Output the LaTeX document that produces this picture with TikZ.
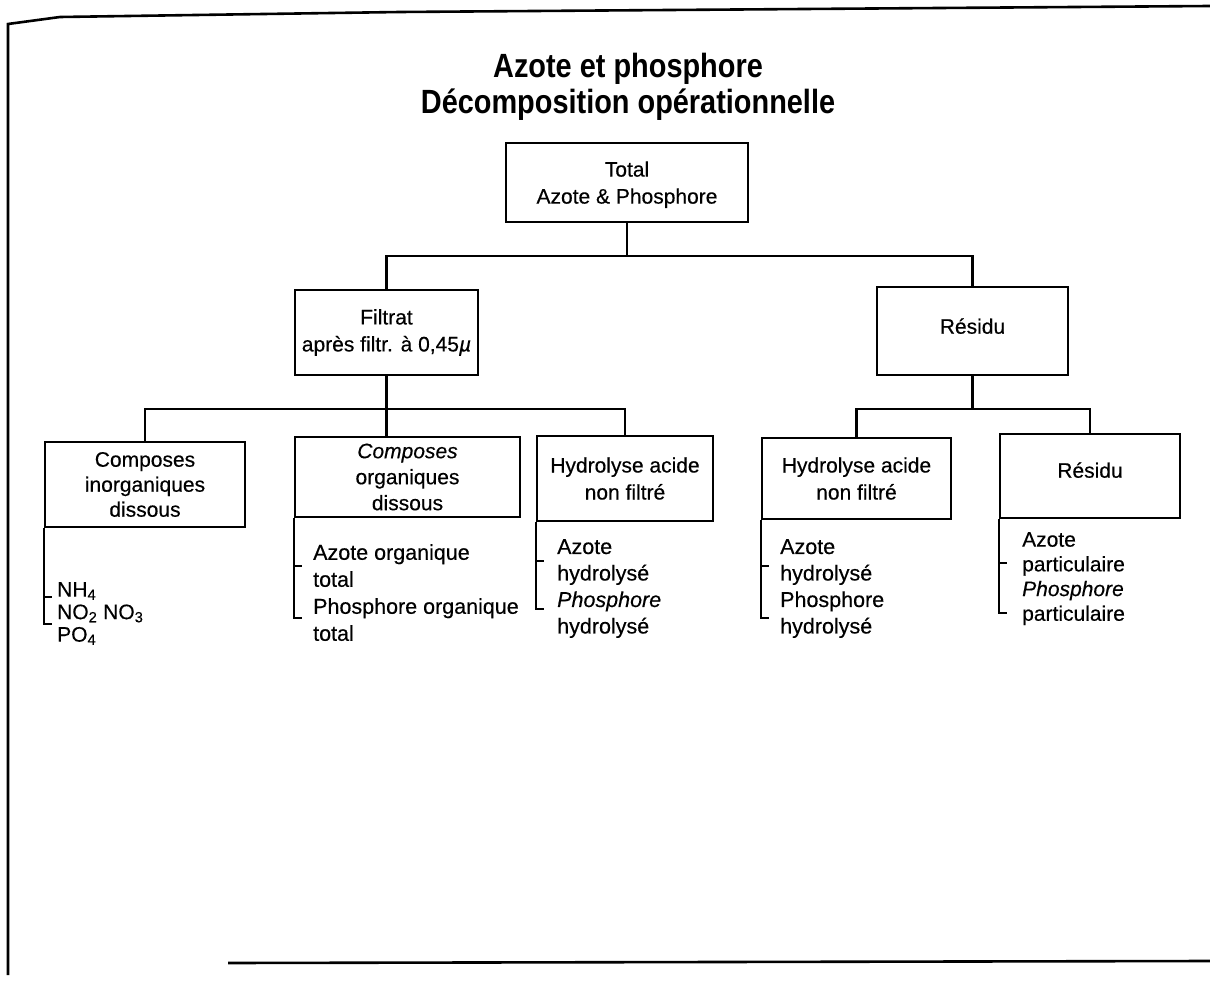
\documentclass[tikz,border=0pt]{standalone}
\usepackage{fontspec}
\setmainfont[FakeBold=0.4]{Liberation Sans}
\newfontfamily\titlefont[FakeStretch=0.86]{Liberation Sans}
\begin{document}
\begin{tikzpicture}[x=1pt,y=-1pt,
  boxstyle/.style={draw, line width=2.6pt, inner sep=0pt, align=center, font=\fontsize{21}{27}\selectfont},
  wire/.style={line width=2.3pt},
  bracket/.style={line width=2.2pt},
  listtext/.style={anchor=north west, align=left, inner sep=0pt, font=\fontsize{21.5}{26.5}\selectfont},
  titletext/.style={align=center, inner sep=0pt, font=\titlefont\bfseries\fontsize{33.6}{36}\selectfont}]
\useasboundingbox (0,0) rectangle (1210,981);
% frame
\draw[line width=2.6pt] (8,975) -- (8,24) -- (60,17) -- (400,12) -- (1210,6);
\draw[line width=2.6pt] (228,963) -- (1210,961);
% title
\node[titletext] (title) at (628,87) {Azote et phosphore\\Décomposition opérationnelle};
% boxes
\node[boxstyle, minimum width=242pt, minimum height=79pt, text depth=0pt] (top) at (627,182.5) {Total\\Azote \& Phosphore};
\node[boxstyle, minimum width=183pt, minimum height=85pt] (filtrat) at (386.5,332.5) {Filtrat\\après filtr. à 0,45{\itshape µ}};
\node[boxstyle, minimum width=191pt, minimum height=88pt, text depth=10pt] (residu) at (972.5,331) {Résidu};
\node[boxstyle, minimum width=200pt, minimum height=85pt] (b1) at (145,484.5) {Composes\\[-2pt]inorganiques\\[-2pt]dissous};
\node[boxstyle, minimum width=225pt, minimum height=80pt] (b2) at (407.5,477) {\textit{Composes}\\[-1pt]organiques\\[-1pt]dissous};
\node[boxstyle, minimum width=176pt, minimum height=85pt] (b3) at (625,478.5) {Hydrolyse acide\\non filtré};
\node[boxstyle, minimum width=189pt, minimum height=81pt] (b4) at (856.5,478.5) {Hydrolyse acide\\non filtré};
\node[boxstyle, minimum width=180pt, minimum height=84pt, text depth=12pt] (b5) at (1090,476) {Résidu};
% connectors
\draw[wire] (top.south) -- ++(0,33) coordinate (j1);
\draw[wire] (filtrat.north) |- (j1) -| (residu.north);
\draw[wire] (filtrat.south) -- ++(0,33) coordinate (j2);
\draw[wire] (b1.north) |- (j2) -| (b3.north);
\draw[wire] (j2) -- (j2 |- b2.north);
\draw[wire] (residu.south) -- ++(0,33) coordinate (j3);
\draw[wire] (b4.north) |- (j3) -| (b5.north);
% lists
\node[listtext, font=\fontsize{21}{22.5}\selectfont] (l1) at (57,582) {NH\textsubscript{4}\\NO\textsubscript{2} NO\textsubscript{3}\\PO\textsubscript{4}};
\node[listtext, font=\fontsize{21.5}{27}\selectfont] (l2) at (313,544) {Azote organique\\total\\Phosphore organique\\total};
\node[listtext] (l3) at (557,539) {Azote\\hydrolysé\\\textit{Phosphore}\\hydrolysé};
\node[listtext] (l4) at (780,539) {Azote\\hydrolysé\\Phosphore\\hydrolysé};
\node[listtext, font=\fontsize{21}{24.7}\selectfont] (l5) at (1022,532) {Azote\\particulaire\\\textit{Phosphore}\\particulaire};
% brackets
\draw[bracket] (b1.south west) -- ++(0,96) -- ++(8,0);
\draw[bracket] ([yshift=-69pt]b1.south west) -- ++(8,0);
\draw[bracket] (b2.south west) -- ++(0,100) -- ++(8,0);
\draw[bracket] ([yshift=-48pt]b2.south west) -- ++(8,0);
\draw[bracket] (b3.south west) -- ++(0,87) -- ++(8,0);
\draw[bracket] ([yshift=-39pt]b3.south west) -- ++(8,0);
\draw[bracket] (b4.south west) -- ++(0,98) -- ++(8,0);
\draw[bracket] ([yshift=-46pt]b4.south west) -- ++(8,0);
\draw[bracket] (b5.south west) -- ++(0,94) -- ++(8,0);
\draw[bracket] ([yshift=-44pt]b5.south west) -- ++(8,0);
\end{tikzpicture}
\end{document}
